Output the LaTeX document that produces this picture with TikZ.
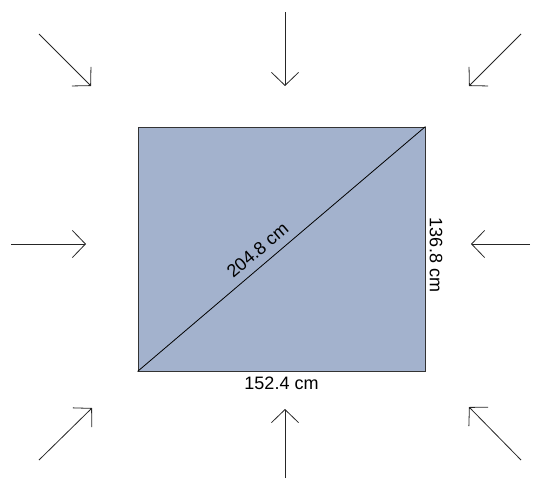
\documentclass[tikz,border=0pt]{standalone}
\usepackage{fontspec}
\setmainfont{Liberation Sans}
\usetikzlibrary{arrows.meta}
\definecolor{plateblue}{RGB}{163,178,205}
\begin{document}
\begin{tikzpicture}[
        x=1pt, y=-1pt,
        >={Straight Barb[length=13pt,width=27pt]},
        plate/.style={
            rectangle,
            draw=black!80,
            fill=plateblue,
            line width=0.9pt,
            inner sep=0pt,
            minimum width=287pt,
            minimum height=244pt
        },
        dim/.style={font=\fontsize{18}{21}\selectfont, inner sep=2pt},
        wind/.style={->, line width=0.8pt, draw=black!85}
    ]
    \useasboundingbox (0,0) rectangle (538,479);

    \node[plate] (plate) at (281.5,249) {};
    \draw[line width=0.8pt] (plate.south west) -- (plate.north east)
        node[dim, pos=0.45, sloped, above=6pt] (diag) {204.8 cm};
    \node[dim, anchor=north] (w) at ([yshift=-3pt]plate.south) {152.4 cm};
    \node[dim, rotate=-90, anchor=south] (h) at ([xshift=2pt,yshift=-6pt]plate.east) {136.8 cm};

    % arrows pointing at the plate
    \coordinate (tl0) at (39,34);   \coordinate (tl1) at (91,86);
    \coordinate (t0)  at (285,12);  \coordinate (t1)  at (285,86);
    \coordinate (tr0) at (521,34);  \coordinate (tr1) at (469,86);
    \coordinate (l0)  at (11,244);  \coordinate (l1)  at (86,244);
    \coordinate (r0)  at (530,244); \coordinate (r1)  at (471,244);
    \coordinate (bl0) at (39,460);  \coordinate (bl1) at (92,408);
    \coordinate (b0)  at (285,478); \coordinate (b1)  at (285,409);
    \coordinate (br0) at (521,460); \coordinate (br1) at (469,407);

    \draw[wind] (tl0) -- (tl1);
    \draw[wind] (t0) -- (t1);
    \draw[wind] (tr0) -- (tr1);
    \draw[wind] (l0) -- (l1);
    \draw[wind] (r0) -- (r1);
    \draw[wind] (bl0) -- (bl1);
    \draw[wind] (b0) -- (b1);
    \draw[wind] (br0) -- (br1);

\end{tikzpicture}
\end{document}
